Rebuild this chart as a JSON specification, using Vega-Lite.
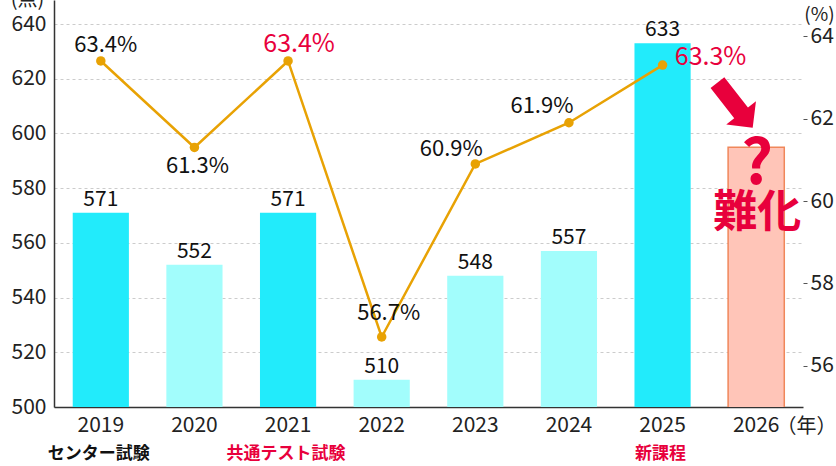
{
  "$schema": "https://vega.github.io/schema/vega-lite/v6.json",
  "width": 749,
  "height": 407,
  "autosize": {"type": "none"},
  "padding": {"left": 54, "top": 0, "right": 33, "bottom": 59},
  "datasets": {
    "scores": [
      {"year": "2019", "score": 571, "rate": 63.4, "kind": "節目", "exam": "センター試験"},
      {"year": "2020", "score": 552, "rate": 61.3, "kind": "通常"},
      {"year": "2021", "score": 571, "rate": 63.4, "kind": "節目", "exam": "共通テスト試験"},
      {"year": "2022", "score": 510, "rate": 56.7, "kind": "通常"},
      {"year": "2023", "score": 548, "rate": 60.9, "kind": "通常"},
      {"year": "2024", "score": 557, "rate": 61.9, "kind": "通常"},
      {"year": "2025", "score": 633, "rate": 63.3, "kind": "節目", "exam": "新課程"},
      {"year": "2026", "score": 595, "rate": null, "kind": "予想"}
    ]
  },
  "data": {"name": "scores"},
  "encoding": {
    "x": {
      "field": "year",
      "type": "nominal",
      "scale": {"paddingInner": 0.4, "paddingOuter": 0.2},
      "axis": {"title": "（年）"}
    }
  },
  "layer": [
    {
      "encoding": {
        "y": {
          "field": "score",
          "type": "quantitative",
          "scale": {"domain": [500, 648.8], "nice": false, "zero": false},
          "axis": {
            "values": [500, 520, 540, 560, 580, 600, 620, 640],
            "labelPadding": 8,
            "ticks": false,
            "domainColor": "#333",
            "domainWidth": 1.5,
            "title": "(点)",
            "titleX": -27,
            "titleY": 9,
            "titleBaseline": "bottom"
          }
        }
      },
      "layer": [
        {
          "mark": {"type": "bar", "strokeWidth": 1.5, "clip": true},
          "encoding": {
            "color": {
              "field": "kind",
              "type": "nominal",
              "scale": {"domain": ["節目", "通常", "予想"], "range": ["#22ebfb", "#a2fdfc", "#ffc5b8"]},
              "legend": null
            },
            "stroke": {
              "condition": {"test": "datum.kind == '予想'", "value": "#f0875a"},
              "value": null
            }
          }
        },
        {
          "transform": [{"filter": "datum.kind != '予想'"}],
          "mark": {"type": "text", "baseline": "alphabetic", "dy": -7, "fontSize": 21, "color": "#111"},
          "encoding": {"text": {"field": "score", "type": "quantitative"}}
        },
        {
          "transform": [{"filter": "isValid(datum.exam)"}],
          "mark": {"type": "text", "baseline": "middle", "dy": 47, "dx": -2, "fontSize": 17, "fontWeight": "bold"},
          "encoding": {
            "y": {"datum": 500},
            "text": {"field": "exam"},
            "color": {
              "condition": {"test": "datum.year == '2019'", "value": "#111"},
              "value": "#e8003c"
            }
          }
        }
      ]
    },
    {
      "encoding": {
        "y": {
          "field": "rate",
          "type": "quantitative",
          "scale": {"domain": [55, 64.88], "nice": false, "zero": false},
          "axis": {
            "orient": "right",
            "values": [56, 58, 60, 62, 64],
            "labelPadding": 3,
            "tickSize": 4,
            "tickColor": "#555",
            "domain": false,
            "title": "(%)",
            "titleFontSize": 19,
            "titleX": 16,
            "titleY": 24,
            "titleBaseline": "bottom"
          }
        }
      },
      "layer": [
        {
          "transform": [{"filter": "isValid(datum.rate)"}],
          "mark": {"type": "line", "color": "#e8a204", "strokeWidth": 2.5}
        },
        {
          "transform": [{"filter": "isValid(datum.rate)"}],
          "mark": {"type": "circle", "color": "#e8a204", "opacity": 1, "size": 90}
        },
        {
          "transform": [{"filter": "datum.year == '2019'"}],
          "mark": {"type": "text", "baseline": "alphabetic", "dx": 5, "dy": -9, "fontSize": 22, "color": "#111", "text": {"expr": "format(datum.rate, '.1f') + '%'"}}
        },
        {
          "transform": [{"filter": "datum.year == '2020'"}],
          "mark": {"type": "text", "baseline": "alphabetic", "dx": 3, "dy": 26, "fontSize": 22, "color": "#111", "text": {"expr": "format(datum.rate, '.1f') + '%'"}}
        },
        {
          "transform": [{"filter": "datum.year == '2021'"}],
          "mark": {"type": "text", "baseline": "alphabetic", "dx": 11, "dy": -9, "fontSize": 25, "color": "#e8003c", "text": {"expr": "format(datum.rate, '.1f') + '%'"}}
        },
        {
          "transform": [{"filter": "datum.year == '2022'"}],
          "mark": {"type": "text", "baseline": "alphabetic", "dx": 7, "dy": -17, "fontSize": 22, "color": "#111", "text": {"expr": "format(datum.rate, '.1f') + '%'"}}
        },
        {
          "transform": [{"filter": "datum.year == '2023'"}],
          "mark": {"type": "text", "baseline": "alphabetic", "dx": -24, "dy": -8, "fontSize": 22, "color": "#111", "text": {"expr": "format(datum.rate, '.1f') + '%'"}}
        },
        {
          "transform": [{"filter": "datum.year == '2024'"}],
          "mark": {"type": "text", "baseline": "alphabetic", "dx": -27, "dy": -10, "fontSize": 22, "color": "#111", "text": {"expr": "format(datum.rate, '.1f') + '%'"}}
        },
        {
          "transform": [{"filter": "datum.year == '2025'"}],
          "mark": {"type": "text", "baseline": "alphabetic", "dx": 48, "dy": 0, "fontSize": 25, "color": "#e8003c", "text": {"expr": "format(datum.rate, '.1f') + '%'"}}
        },
        {
          "data": {"values": [{"year": "2026", "rate": 62.44, "note": "➡"}]},
          "mark": {"type": "text", "font": "DejaVu Sans", "fontSize": 76, "angle": 52, "align": "center", "baseline": "middle", "dx": -10.6, "dy": 20.2, "color": "#e8003c"},
          "encoding": {"text": {"field": "note"}}
        },
        {
          "data": {"values": [{"year": "2026", "rate": 60.87, "note": "?"}]},
          "mark": {"type": "text", "fontSize": 62, "fontWeight": "bold", "align": "center", "baseline": "middle", "dx": 1, "color": "#e8003c"},
          "encoding": {"text": {"field": "note"}}
        },
        {
          "data": {"values": [{"year": "2026", "rate": 59.68, "note": "難化"}]},
          "mark": {"type": "text", "fontSize": 44, "fontWeight": "bold", "align": "center", "baseline": "middle", "dx": 1, "color": "#e8003c"},
          "encoding": {"text": {"field": "note"}}
        }
      ]
    }
  ],
  "resolve": {"scale": {"y": "independent"}},
  "config": {
    "font": "Noto Sans CJK JP",
    "view": {"stroke": null},
    "axis": {
      "labelFont": "Noto Sans CJK JP",
      "titleFont": "Noto Sans CJK JP",
      "labelFontSize": 21,
      "labelColor": "#222",
      "titleFontSize": 20,
      "titleFontWeight": "normal",
      "titleColor": "#222",
      "titleAngle": 0,
      "titleAlign": "center",
      "gridColor": "#cccccc",
      "gridDash": [3, 3]
    },
    "axisX": {
      "labelAngle": 0,
      "labelPadding": 7,
      "ticks": false,
      "grid": false,
      "domainColor": "#333",
      "domainWidth": 1.5,
      "titleX": 752,
      "titleY": 25,
      "titleBaseline": "alphabetic"
    }
  }
}
